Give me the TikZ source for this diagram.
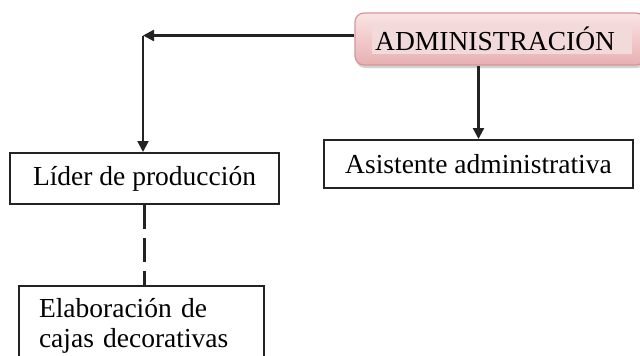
\documentclass[tikz,border=0pt]{standalone}
\usepackage{fontspec}
\setmainfont{Liberation Serif}
\usetikzlibrary{arrows.meta,shadows}
\definecolor{pinktop}{RGB}{250,228,228}
\definecolor{pinkbot}{RGB}{232,176,178}
\definecolor{pinkedge}{RGB}{214,150,152}
\definecolor{pinkhl}{RGB}{243,218,218}
\definecolor{linec}{RGB}{35,35,35}
\tikzset{
  x=1pt,y=1pt,
  txt/.style={font=\fontsize{27.5}{31.5}\selectfont},
  plainbox/.style={draw=linec,line width=2pt,fill=white,inner sep=0pt,txt},
  conn/.style={draw=linec,line width=2.3pt},
  arr/.style={conn,-{Triangle[length=11pt,width=11pt]}},
  dashconn/.style={conn,dash pattern=on 24pt off 9pt}
}
\begin{document}
\begin{tikzpicture}
\useasboundingbox (0,0) rectangle (640,-356);
% top box
\node[rounded corners=9pt,draw=pinkedge,line width=1.2pt,top color=pinktop,bottom color=pinkbot,
      minimum width=290pt,minimum height=52pt,inner sep=0pt,
      drop shadow={shadow xshift=1pt,shadow yshift=-3pt,fill=black!35,opacity=0.5}]
      (admin) at (500,-39) {};
\node[fill=pinkhl,txt,anchor=west,text width=254pt,align=left,inner xsep=3pt,inner ysep=0pt,minimum height=30pt]
      (admtext) at (372,-38.5) {ADMINISTRACIÓN};
% boxes
\node[plainbox,minimum width=269pt,minimum height=51pt] (lider) at (144.5,-178.5) {Líder de producción};
\node[plainbox,minimum width=245pt,minimum height=80pt,anchor=north west,text width=205pt,align=left,inner xsep=20pt,inner ysep=0pt]
      (elab) at (18,-285) {\vspace{-2pt}Elaboración de\\cajas decorativas};
\node[plainbox,minimum width=309pt,minimum height=48pt] (asis) at (478.5,-164) {Asistente administrativa};
% connectors
\coordinate (corner) at (143,-35.5);
\draw[arr] (admin.west |- corner) -- (corner);
\draw[arr] (corner) -- (corner |- lider.north);
\draw[arr] (asis.north |- admin.south) -- (asis.north);
\draw[dashconn] (lider.south) -- (lider.south |- elab.north);
\end{tikzpicture}
\end{document}
